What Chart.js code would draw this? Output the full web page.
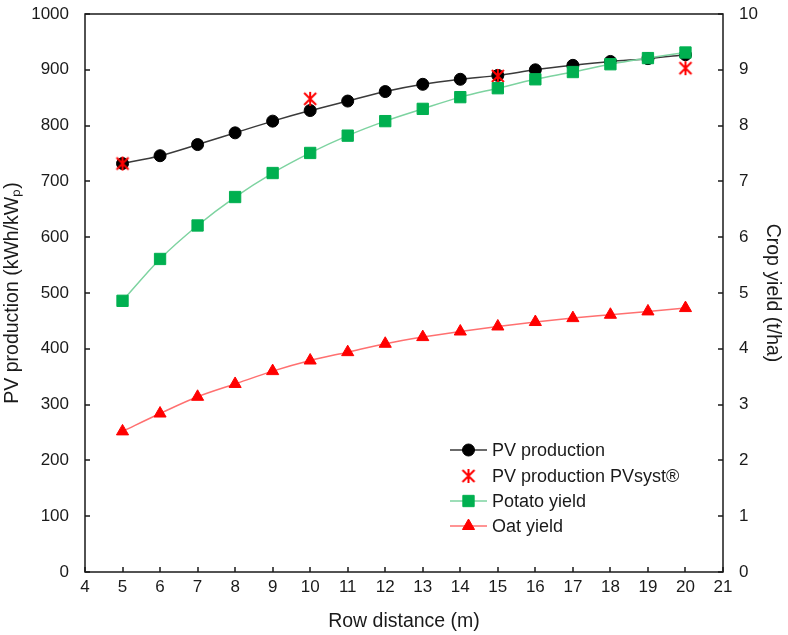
<!DOCTYPE html>
<html>
<head>
<meta charset="utf-8">
<script src="https://cdn.jsdelivr.net/npm/chart.js@4/dist/chart.umd.min.js"></script>
<style>
  html, body { margin: 0; padding: 0; background: #fff; }
  #wrap { width: 788px; height: 635px; }
</style>
</head>
<body>
<div id="wrap"><canvas id="c" width="788" height="635"></canvas></div>
<script>
const rowDistance = [5, 6, 7, 8, 9, 10, 11, 12, 13, 14, 15, 16, 17, 18, 19, 20];
const pvProduction = [732, 746, 766, 787, 808, 827, 844, 861, 874, 883, 890, 900, 908, 915, 920, 927];
const pvsystDistance = [5, 10, 15, 20];
const pvsystProduction = [732, 848, 889, 903];
const potatoYield = [4.86, 5.61, 6.21, 6.72, 7.15, 7.51, 7.82, 8.08, 8.30, 8.51, 8.67, 8.83, 8.96, 9.10, 9.21, 9.31];
const oatYield = [2.52, 2.84, 3.14, 3.37, 3.60, 3.79, 3.94, 4.09, 4.21, 4.31, 4.40, 4.48, 4.55, 4.61, 4.67, 4.73];

const pts = (xs, ys) => xs.map((x, i) => ({x, y: ys[i]}));
const FONT = '"Liberation Sans", Arial, sans-serif';
const TXT = '#1a1a1a';

// Excel-style asterisk marker: an X with a vertical stroke
const star = document.createElement('canvas');
star.width = 16; star.height = 16;
{
  const g = star.getContext('2d');
  g.strokeStyle = '#ff0000';
  g.lineWidth = 2;
  g.beginPath();
  g.moveTo(2, 2); g.lineTo(14, 14);
  g.moveTo(14, 2); g.lineTo(2, 14);
  g.moveTo(8, 1); g.lineTo(8, 15);
  g.stroke();
}

const frame = {
  id: 'frameTicks',
  afterDatasetsDraw(chart) {
    const {ctx, chartArea: a, scales} = chart;
    ctx.save();
    ctx.strokeStyle = '#1a1a1a';
    ctx.lineWidth = 1.5;
    ctx.beginPath();
    for (let v = 4; v <= 21; v++) {
      const x = Math.round(scales.x.getPixelForValue(v));
      ctx.moveTo(x, a.bottom); ctx.lineTo(x, a.bottom - 5);
    }
    for (let v = 0; v <= 1000; v += 100) {
      const y = Math.round(scales.y.getPixelForValue(v));
      ctx.moveTo(a.left, y); ctx.lineTo(a.left + 5, y);
    }
    for (let v = 0; v <= 10; v++) {
      const y = Math.round(scales.y1.getPixelForValue(v));
      ctx.moveTo(a.right, y); ctx.lineTo(a.right - 5, y);
    }
    ctx.stroke();
    ctx.strokeRect(a.left, a.top, a.right - a.left, a.bottom - a.top);
    ctx.restore();
  }
};

const legendBox = {
  id: 'legendBox',
  afterDraw(chart) {
    const {ctx} = chart;
    const x0 = 450, x1 = 487, tx = 492;
    const ys = [450, 476, 501, 526];
    ctx.save();
    ctx.font = '18px ' + FONT;
    ctx.textBaseline = 'middle';
    chart.data.datasets.forEach((ds, i) => {
      const y = ys[i];
      if (ds.showLine !== false) {
        ctx.strokeStyle = ds.borderColor;
        ctx.lineWidth = ds.borderWidth;
        ctx.beginPath(); ctx.moveTo(x0, y); ctx.lineTo(x1, y); ctx.stroke();
      }
      ctx.fillStyle = ds.pointBackgroundColor;
      ctx.strokeStyle = ds.pointBorderColor;
      ctx.lineWidth = ds.pointBorderWidth;
      Chart.helpers.drawPoint(ctx, {pointStyle: ds.pointStyle, radius: ds.pointRadius, borderWidth: ds.pointBorderWidth}, (x0 + x1) / 2, y);
      ctx.fillStyle = TXT;
      ctx.fillText(ds.label, tx, y + 1);
    });
    ctx.restore();
  }
};

const tickFont = {family: FONT, size: 17};
const titleFont = {family: FONT, size: 19.5};

const fixWidth = w => s => { s.width = w; s.paddingTop = 0; s.paddingBottom = 0; };

new Chart(document.getElementById('c'), {
  type: 'line',
  data: {datasets: [
    {label: 'PV production', data: pts(rowDistance, pvProduction), yAxisID: 'y',
     borderColor: '#3a3a3a', borderWidth: 1.5, pointStyle: 'circle', pointRadius: 6,
     pointBackgroundColor: '#000', pointBorderColor: '#000', pointBorderWidth: 1,
     cubicInterpolationMode: 'monotone', order: 3},
    {label: 'PV production PVsyst®', data: pts(pvsystDistance, pvsystProduction), yAxisID: 'y',
     showLine: false, borderColor: '#ff0000', borderWidth: 0, pointStyle: star, pointRadius: 8,
     pointBackgroundColor: '#ff0000', pointBorderColor: '#ff0000', pointBorderWidth: 2, order: 1},
    {label: 'Potato yield', data: pts(rowDistance, potatoYield), yAxisID: 'y1',
     borderColor: '#7dd3a0', borderWidth: 1.5, pointStyle: 'rect', pointRadius: 8,
     pointBackgroundColor: '#00b050', pointBorderColor: '#00b050', pointBorderWidth: 1,
     cubicInterpolationMode: 'monotone', order: 0},
    {label: 'Oat yield', data: pts(rowDistance, oatYield), yAxisID: 'y1',
     borderColor: '#ff7070', borderWidth: 1.5, pointStyle: 'triangle', pointRadius: 7,
     pointBackgroundColor: '#ff0000', pointBorderColor: '#ff0000', pointBorderWidth: 1,
     cubicInterpolationMode: 'monotone', order: 2}
  ]},
  plugins: [frame, legendBox],
  options: {
    responsive: false,
    animation: false,
    layout: {padding: {top: 14, right: 0, bottom: 0, left: 0}},
    plugins: {legend: {display: false}, tooltip: {enabled: false}},
    scales: {
      x: {
        type: 'linear', min: 4, max: 21,
        grid: {display: false, drawTicks: false}, border: {display: false},
        ticks: {stepSize: 1, color: TXT, font: tickFont, padding: 5},
        title: {display: true, text: 'Row distance (m)', color: TXT, font: titleFont, padding: {top: 4, bottom: 2}},
        afterFit: s => { s.height = 63; s.paddingLeft = 0; s.paddingRight = 0; }
      },
      y: {
        position: 'left', min: 0, max: 1000,
        grid: {display: false, drawTicks: false}, border: {display: false},
        ticks: {stepSize: 100, color: TXT, font: tickFont, padding: 16, callback: v => String(v)},
        title: {display: true, text: 'PV production (kWh/kWₚ)', color: TXT, font: titleFont, padding: {top: 1, bottom: 4}},
        afterFit: fixWidth(85)
      },
      y1: {
        position: 'right', min: 0, max: 10,
        grid: {display: false, drawTicks: false}, border: {display: false},
        ticks: {stepSize: 1, color: TXT, font: tickFont, padding: 16, callback: v => String(v)},
        title: {display: true, text: 'Crop yield (t/ha)', color: TXT, font: titleFont, padding: {top: 4, bottom: 2}},
        afterFit: fixWidth(65)
      }
    }
  }
});
</script>
</body>
</html>
